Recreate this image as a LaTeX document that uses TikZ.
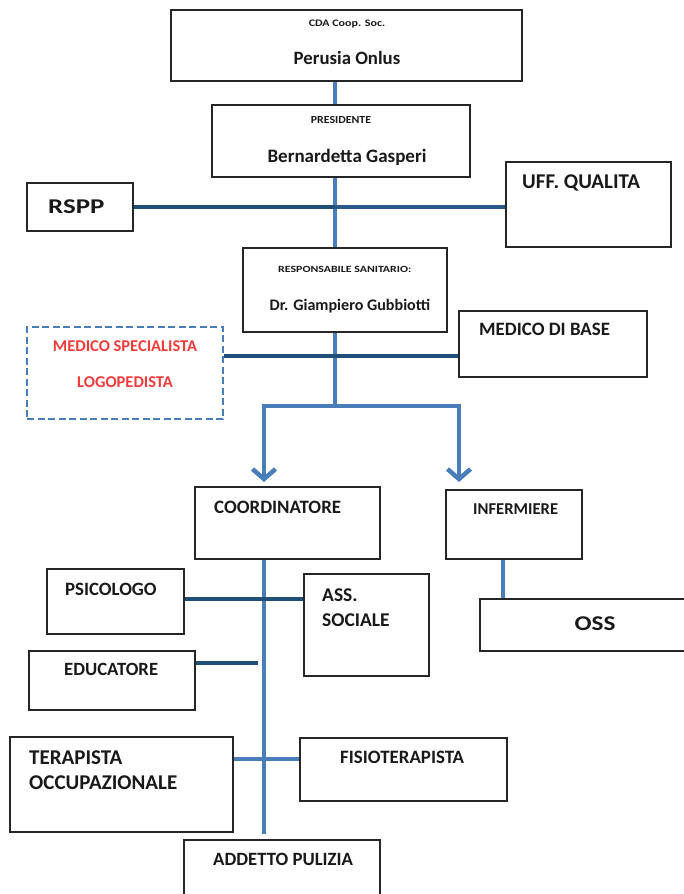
\documentclass[tikz,border=0pt]{standalone}
\usepackage{fontspec}
\setmainfont{Carlito}
\usepackage{graphicx}
\usetikzlibrary{fit,backgrounds,arrows.meta}
\definecolor{lblue}{HTML}{4A7EBB}
\definecolor{dblue}{HTML}{1F4E79}
\definecolor{mblue}{HTML}{2A5A8C}
\definecolor{mred}{HTML}{F23C3C}
\newcommand{\sx}[2]{\scalebox{#1}[1]{#2}}
\begin{document}
\begin{tikzpicture}[x=1pt,y=-1pt,
  box/.style={draw=black!85,line width=1.3pt,fill=white,inner sep=0pt,fit={#1}},
  dbox/.style={draw=lblue,line width=1.8pt,dash pattern=on 7pt off 3.5pt,fill=white,inner sep=0pt,fit={#1}},
  txt/.style={inner sep=0pt,text depth=0pt,text=black!90,font=\bfseries\fontsize{#1}{#1}\selectfont},
  vline/.style={draw=lblue,line width=4pt},
  hdark/.style={draw=dblue,line width=4.5pt},
  hmid/.style={draw=mblue,line width=4pt},
  hlight/.style={draw=lblue,line width=4pt},
  arr/.style={draw=lblue,line width=4.5pt,-{Straight Barb[length=10pt,width=23pt]}}
]
\useasboundingbox (0,0) rectangle (684,894);

% boxes
\node[box={(171,10)(522,81)}] (cda) {};
\node[box={(212,105)(470,177)}] (pres) {};
\node[box={(27,183)(133,231)}] (rspp) {};
\node[box={(506,162)(671,247)}] (uff) {};
\node[box={(243,248)(447,332)}] (resp) {};
\node[box={(459,311)(647,377)}] (base) {};
\node[dbox={(27,327)(223,419)}] (spec) {};
\node[box={(195,487)(380,559)}] (coord) {};
\node[box={(446,490)(582,559)}] (inf) {};
\node[box={(480,599)(690,651)}] (oss) {};
\node[box={(47,569)(184,634)}] (psi) {};
\node[box={(304,574)(429,676)}] (ass) {};
\node[box={(29,651)(195,710)}] (edu) {};
\node[box={(10,737)(233,832)}] (ter) {};
\node[box={(300,738)(507,801)}] (fis) {};
\node[box={(184,840)(380,900)}] (add) {};

% helper coordinates
\coordinate (sp1) at (335,0);
\coordinate (sp2) at (264,0);
\coordinate (br) at (335,406);
\coordinate (al) at (264,482);
\coordinate (ar) at (459,482);
\coordinate (ml) at (0,356);
\coordinate (pl) at (0,599);
\coordinate (ee) at (258,663);
\coordinate (tl) at (0,759);
\coordinate (lk) at (503,0);
\coordinate (send) at (264,834);

% connectors
\begin{scope}[on background layer]
  \draw[vline] (sp1 |- cda.south) -- (sp1 |- pres.north);
  \draw[vline] (sp1 |- pres.south) -- (sp1 |- resp.north);
  \draw[hmid] (sp1 |- rspp.east) -- (uff.west |- rspp.east);
  \draw[hdark] (rspp.east) -- (sp1 |- rspp.east);
  \draw[vline] (sp1 |- resp.south) -- (br);
  \draw[hdark] (spec.east |- ml) -- (base.west |- ml);
  \draw[arr] (br) -| (al);
  \draw[arr] (br) -| (ar);
  \draw[vline] (sp2 |- coord.south) -- (send);
  \draw[hdark] (psi.east |- pl) -- (ass.west |- pl);
  \draw[hdark] (edu.east |- ee) -- (ee);
  \draw[hlight] (ter.east |- tl) -- (fis.west |- tl);
  \draw[vline] (lk |- inf.south) -- (lk |- oss.north);
\end{scope}

% texts
\node[txt=10] (t1) at (347,23) {\sx{1.2}{CDA Coop. Soc.}};
\node[txt=18.8] (t2) at (347,58) {Perusia Onlus};
\node[txt=10.8] (t3) at (341,120) {\sx{1.1}{PRESIDENTE}};
\node[txt=19] (t4) at (347,156) {Bernardetta Gasperi};
\node[txt=21,anchor=west] (t5) at (48,207) {\sx{1.28}{RSPP}};
\node[txt=21,anchor=west] (t6) at (522,182) {UFF. QUALITA};
\node[txt=9.5,anchor=west] (t7) at (278,269) {\sx{1.25}{RESPONSABILE SANITARIO:}};
\node[txt=16.1] (t8) at (350,305) {Dr. Giampiero Gubbiotti};
\node[txt=18.9,anchor=west] (t9) at (479,329) {MEDICO DI BASE};
\node[txt=16.5,text=mred] (t10) at (125,346) {MEDICO SPECIALISTA};
\node[txt=16.5,text=mred] (t11) at (125,382) {LOGOPEDISTA};
\node[txt=18.9,anchor=west] (t12) at (214,507) {COORDINATORE};
\node[txt=16.6,anchor=west] (t13) at (473,509) {INFERMIERE};
\node[txt=21] (t14) at (595,624) {\sx{1.2}{OSS}};
\node[txt=18.8,anchor=west] (t15) at (65,589) {PSICOLOGO};
\node[txt=19.5,anchor=west] (t16) at (322,595) {ASS.};
\node[txt=19.5,anchor=west] (t17) at (322,620) {SOCIALE};
\node[txt=18.7,anchor=west] (t18) at (64,669) {EDUCATORE};
\node[txt=21,anchor=west] (t19) at (29,758) {TERAPISTA};
\node[txt=21,anchor=west] (t20) at (29,783) {OCCUPAZIONALE};
\node[txt=18.9,anchor=west] (t21) at (340,757) {FISIOTERAPISTA};
\node[txt=18.75,anchor=west] (t22) at (213,859) {ADDETTO PULIZIA};
\end{tikzpicture}
\end{document}
